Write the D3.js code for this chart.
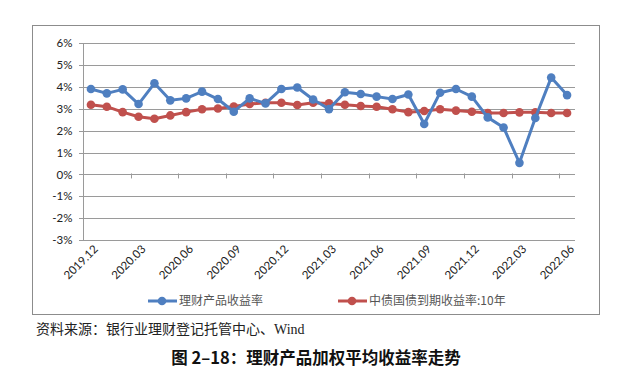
<!DOCTYPE html>
<html>
<head>
<meta charset="utf-8">
<script src="https://cdn.jsdelivr.net/npm/d3@7"></script>
<style>
  body { margin: 0; background: #fff; }
  svg { display: block; }
</style>
</head>
<body>
<div id="chart"></div>
<script>
// monthly categories 2019.12 - 2022.06
const months = ["2019.12", "2020.01", "2020.02", "2020.03", "2020.04", "2020.05", "2020.06",
  "2020.07", "2020.08", "2020.09", "2020.10", "2020.11", "2020.12", "2021.01", "2021.02",
  "2021.03", "2021.04", "2021.05", "2021.06", "2021.07", "2021.08", "2021.09", "2021.10",
  "2021.11", "2021.12", "2022.01", "2022.02", "2022.03", "2022.04", "2022.05", "2022.06"];
// 理财产品收益率 (%)
const wealthYield = [3.91, 3.71, 3.89, 3.22, 4.17, 3.39, 3.48, 3.79, 3.45, 2.87, 3.48, 3.25,
  3.91, 3.98, 3.43, 2.99, 3.76, 3.68, 3.56, 3.45, 3.66, 2.31, 3.74, 3.91, 3.56, 2.61, 2.15,
  0.53, 2.58, 4.43, 3.63];
// 中债国债到期收益率:10年 (%)
const bondYield = [3.19, 3.10, 2.85, 2.64, 2.55, 2.70, 2.85, 2.98, 3.02, 3.11, 3.22, 3.28,
  3.28, 3.18, 3.28, 3.25, 3.19, 3.13, 3.10, 2.98, 2.85, 2.90, 2.98, 2.92, 2.87, 2.81, 2.81,
  2.84, 2.84, 2.81, 2.81];
const yTicks = [-3, -2, -1, 0, 1, 2, 3, 4, 5, 6];
const seriesNames = ["理财产品收益率", "中债国债到期收益率:10年"];
const seriesColors = ["#4f7fc0", "#c0504d"];

const width = 640, height = 385;
const svg = d3.select("#chart").append("svg")
  .attr("width", width)
  .attr("height", height);

// chart area border
svg.append("rect")
  .attr("x", 32.5).attr("y", 25.5)
  .attr("width", 567).attr("height", 289)
  .attr("fill", "#fff")
  .attr("stroke", "#8c8c8c");

const x = d3.scaleBand().domain(months).range([83, 575]);
const y = d3.scaleLinear().domain([-3, 6]).range([240, 43.3]);

// gridlines
svg.append("g").selectAll("line")
  .data(yTicks)
  .enter().append("line")
  .attr("x1", 79).attr("x2", 575)
  .attr("y1", d => Math.round(y(d)) + 0.5)
  .attr("y2", d => Math.round(y(d)) + 0.5)
  .attr("stroke", "#9a9a9a");

// y axis
const yAxis = svg.append("g")
  .attr("transform", "translate(83.5,0)")
  .call(d3.axisLeft(y).tickValues(yTicks).tickSize(0).tickPadding(11)
    .tickFormat(d => d + "%"));
yAxis.select(".domain").attr("stroke", "#9a9a9a").attr("d", "M0," + y(6) + "V" + y(-3));
yAxis.selectAll("text")
  .attr("font-family", "Lato, 'Liberation Sans', sans-serif")
  .attr("font-size", 11.5)
  .attr("fill", "#222");

// x axis on the 0% line with tick marks every 3 months
const xTickIdx = d3.range(3, months.length, 3);
svg.append("g").selectAll("line")
  .data(xTickIdx)
  .enter().append("line")
  .attr("x1", i => Math.round(x(months[i])) + 0.5)
  .attr("x2", i => Math.round(x(months[i])) + 0.5)
  .attr("y1", y(0) - 1).attr("y2", y(0) + 4)
  .attr("stroke", "#9a9a9a");

// category labels at the bottom, rotated
svg.append("g").selectAll("text")
  .data(months.filter((m, i) => i % 3 === 0))
  .enter().append("text")
  .attr("transform", d => "translate(" + (x(d) + x.bandwidth() / 2 + 5) + "," + 247 + ") rotate(-45)")
  .attr("text-anchor", "end")
  .attr("dy", "0.35em")
  .attr("font-family", "Lato, 'Liberation Sans', sans-serif")
  .attr("font-size", 11.5)
  .attr("fill", "#222")
  .text(d => d);

const line = d3.line()
  .x((d, i) => x(months[i]) + x.bandwidth() / 2)
  .y(d => y(d));

[bondYield, wealthYield].forEach(function (vals, k) {
  const color = seriesColors[1 - k];
  const g = svg.append("g");
  g.append("path")
    .attr("d", line(vals))
    .attr("fill", "none")
    .attr("stroke", color)
    .attr("stroke-width", 3)
    .attr("stroke-linejoin", "round");
  g.selectAll("circle")
    .data(vals)
    .enter().append("circle")
    .attr("cx", (d, i) => x(months[i]) + x.bandwidth() / 2)
    .attr("cy", d => y(d))
    .attr("r", 4.3)
    .attr("fill", color);
});

// legend
const legendX = [148, 338];
const legend = svg.append("g").selectAll("g")
  .data(seriesNames)
  .enter().append("g")
  .attr("transform", (d, i) => "translate(" + legendX[i] + ",301)");
legend.append("line")
  .attr("x1", 0).attr("x2", 29)
  .attr("stroke", (d, i) => seriesColors[i])
  .attr("stroke-width", 3);
legend.append("circle")
  .attr("cx", 14).attr("r", 4.3)
  .attr("fill", (d, i) => seriesColors[i]);
legend.append("text")
  .attr("x", 31)
  .attr("dy", "0.35em")
  .attr("font-family", "'Noto Sans CJK SC', sans-serif")
  .attr("font-size", 12)
  .attr("fill", "#555")
  .text(d => d);

// source note
svg.append("text")
  .attr("x", 36).attr("y", 329)
  .attr("dy", "0.35em")
  .attr("font-family", "'Liberation Serif', 'Noto Sans CJK SC', serif")
  .attr("font-size", 14)
  .attr("fill", "#222")
  .text("资料来源：银行业理财登记托管中心、Wind");

// figure title
svg.append("text")
  .attr("x", 316).attr("y", 358)
  .attr("dy", "0.35em")
  .attr("text-anchor", "middle")
  .attr("font-family", "'Noto Sans CJK SC', sans-serif")
  .attr("font-size", 16.5)
  .attr("font-weight", "bold")
  .attr("fill", "#111")
  .text("图 2–18：理财产品加权平均收益率走势");
</script>
</body>
</html>
